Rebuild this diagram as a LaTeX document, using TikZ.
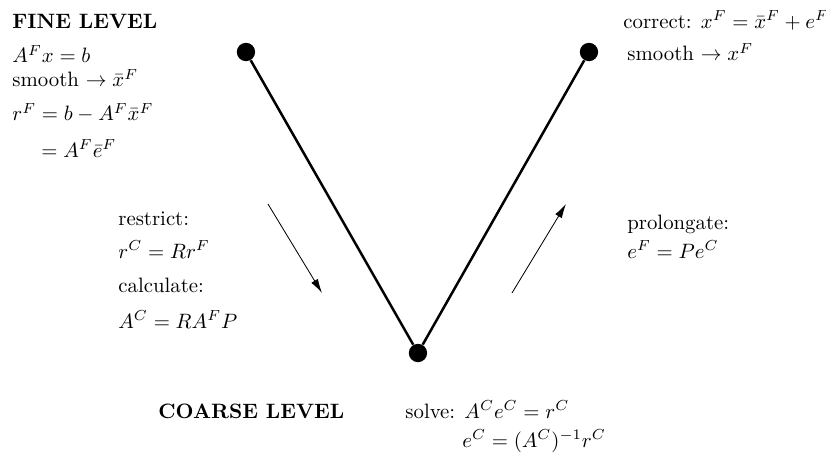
\documentclass[tikz,border=0pt]{standalone}
\usepackage{amsmath, amssymb}
\usepackage{tikz}
\usetikzlibrary{arrows.meta, positioning}

\tikzset{
  gridpt/.style={circle, fill=black, inner sep=0pt, minimum size=0.31cm},
  vleg/.style={line width=1.2pt},
  transfer/.style={-{Latex[length=2.4mm, width=1.3mm]}, line width=0.4pt},
  txt/.style={anchor=base west, inner sep=0pt}
}

\begin{document}
\begin{tikzpicture}

    \useasboundingbox (0,0) rectangle (13.96, 7.69);

    %% ── V-cycle ───────────────────────────────────────────────────────────
    \node[gridpt] (fineL) at (4.157, 6.811) {};
    \node[gridpt] (fineR) at (9.954, 6.811) {};
    \node[gridpt] (coarse) at (7.064, 1.724) {};

    \draw[vleg] (fineL) -- (coarse) -- (fineR);

    %% restriction / prolongation arrows
    \coordinate (resA) at (4.529, 4.242);
    \coordinate (resB) at (5.442, 2.738);
    \coordinate (proA) at (8.653, 2.738);
    \coordinate (proB) at (9.565, 4.242);
    \draw[transfer] (resA) -- (resB);
    \draw[transfer] (proA) -- (proB);

    %% ═══ Fine level ═══════════════════════════════════════════════════════
    \node[txt, font=\bfseries] (fineTitle) at (0.203, 7.216) {FINE LEVEL};
    \node[txt] (fineSys)    at (0.203, 6.625) {$A^F x = b$};
    \node[txt] (preSmooth)  at (0.203, 6.220) {smooth $\rightarrow \bar{x}^F$};
    \node[txt] (fineRes)    at (0.203, 5.650) {$r^F = b - A^F \bar{x}^F$};
    \node[txt] (fineRes2)   at (0.693, 5.030) {$= A^F \bar{e}^F$};

    \node[txt] (correct)    at (10.529, 7.216) {correct: $x^F = \bar{x}^F + e^F$};
    \node[txt] (postSmooth) at (10.596, 6.659) {smooth $\rightarrow x^F$};

    %% ═══ Transfers ════════════════════════════════════════════════════════
    \node[txt] (restrict)   at (1.994, 3.887) {restrict:};
    \node[txt] (restrictEq) at (1.994, 3.329) {$r^C = R r^F$};
    \node[txt] (calc)       at (1.994, 2.738) {calculate:};
    \node[txt] (calcEq)     at (1.994, 2.146) {$A^C = R A^F P$};

    \node[txt] (prolong)    at (10.596, 3.819) {prolongate:};
    \node[txt] (prolongEq)  at (10.596, 3.329) {$e^F = P e^C$};

    %% ═══ Coarse level ═════════════════════════════════════════════════════
    \node[txt, font=\bfseries] (coarseTitle) at (2.670, 0.625) {COARSE LEVEL};
    \node[txt] (solve)   at (6.845, 0.625) {solve: $A^C e^C = r^C$};
    \node[txt] (solveEq) at (7.808, 0.135) {$e^C = (A^C)^{-1} r^C$};

\end{tikzpicture}
\end{document}
